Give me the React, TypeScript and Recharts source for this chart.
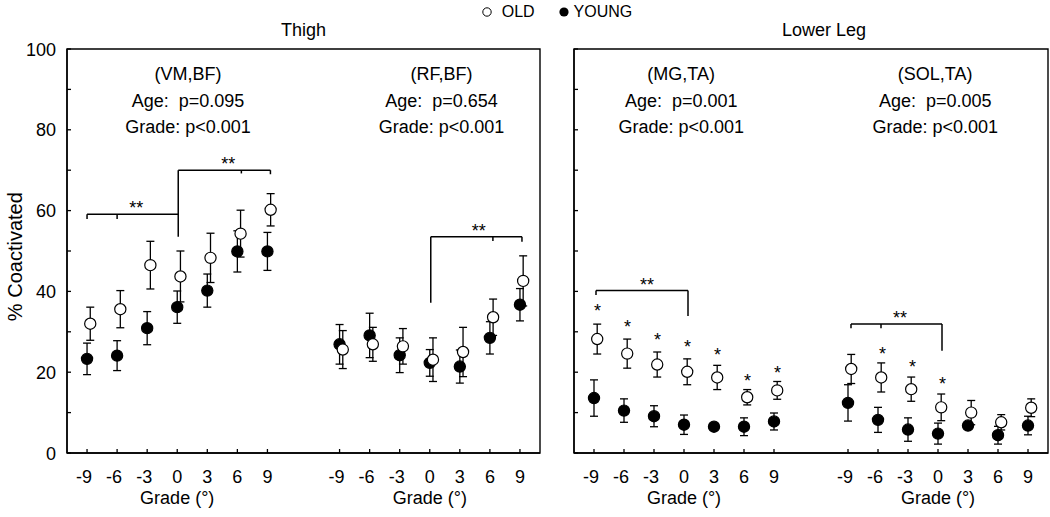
import React from 'react';
import {
  ScatterChart,
  Scatter,
  XAxis,
  YAxis,
  ErrorBar,
  ReferenceLine,
  ReferenceDot,
  ReferenceArea,
  Legend,
} from 'recharts';

const FONT = '"Liberation Sans", Arial, Helvetica, sans-serif';

// ---------- data ----------
const grades = [-9, -6, -3, 0, 3, 6, 9];
const yTicks = [0, 10, 20, 30, 40, 50, 60, 70, 80, 90, 100];

// Thigh (VM,BF)
const vmbfOld = [32.0, 35.6, 46.5, 43.7, 48.3, 54.3, 60.2];
const vmbfOldErr = [4.1, 4.6, 5.9, 6.3, 6.1, 5.8, 4.0];
const vmbfYoung = [23.3, 24.1, 30.9, 36.1, 40.2, 49.9, 49.9];
const vmbfYoungErr = [3.9, 3.7, 4.1, 4.0, 4.1, 5.1, 4.7];

// Thigh (RF,BF)
const rfbfOld = [25.6, 26.9, 26.4, 23.1, 25.0, 33.6, 42.6];
const rfbfOldErr = [4.7, 4.2, 4.4, 5.4, 6.1, 4.5, 6.2];
const rfbfYoung = [26.9, 29.1, 24.2, 22.3, 21.4, 28.5, 36.7];
const rfbfYoungErr = [4.9, 5.5, 4.3, 3.3, 4.1, 4.0, 4.0];

// Lower leg (MG,TA)
const mgtaOld = [28.2, 24.6, 21.9, 20.1, 18.7, 13.8, 15.5];
const mgtaOldErr = [3.7, 3.6, 3.1, 3.2, 3.0, 1.9, 2.2];
const mgtaYoung = [13.6, 10.5, 9.1, 7.0, 6.5, 6.5, 7.8];
const mgtaYoungErr = [4.5, 2.9, 2.6, 2.4, 0.5, 2.2, 2.1];

// Lower leg (SOL,TA)
const soltaOld = [20.8, 18.7, 15.8, 11.3, 10.0, 7.6, 11.2];
const soltaOldErr = [3.6, 3.6, 3.0, 3.3, 3.0, 1.9, 2.2];
const soltaYoung = [12.4, 8.2, 5.8, 4.8, 6.8, 4.4, 6.8];
const soltaYoungErr = [4.5, 3.1, 2.9, 2.6, 0.5, 2.2, 2.3];

// text
const panelTitles = ['Thigh', 'Lower Leg'];
const muscleLabels = ['(VM,BF)', '(RF,BF)', '(MG,TA)', '(SOL,TA)'];
const ageLabels = ['Age:  p=0.095', 'Age:  p=0.654', 'Age:  p=0.001', 'Age:  p=0.005'];
const gradeLabels = ['Grade: p<0.001', 'Grade: p<0.001', 'Grade: p<0.001', 'Grade: p<0.001'];
const xAxisTitle = 'Grade (°)';
const yAxisTitle = '% Coactivated';

// single-star markers (grade, y)
const mgtaStarGrades = [-9, -6, -3, 0, 3, 6, 9];
const mgtaStarY = [33.7, 29.8, 26.5, 24.75, 22.7, 16.3, 18.4];
const soltaStarGrades = [-6, -3, 0];
const soltaStarY = [22.9, 19.9, 15.5];

// significance brackets [x1, y1, x2, y2] in grade units (per sub-group)
const vmbfBrackets = [
  [-9, 59.1, 0.1, 59.1],
  [-9, 57.9, -9, 59.1],
  [-6, 57.9, -6, 59.1],
  [0.1, 53.5, 0.1, 70.0],
  [0.1, 70.0, 9.3, 70.0],
  [6.4, 69.2, 6.4, 70.0],
  [9.3, 69.0, 9.3, 70.0],
];
const vmbfDoubleStars = [[-4.1, 59.1], [5.1, 70.0]];
const rfbfBrackets = [
  [0.1, 53.5, 9.2, 53.5],
  [0.1, 37.2, 0.1, 53.5],
  [6.3, 52.5, 6.3, 53.5],
  [9.2, 52.3, 9.2, 53.5],
];
const rfbfDoubleStars = [[4.9, 53.5]];
const mgtaBrackets = [
  [-8.8, 40.2, 0.4, 40.2],
  [-8.8, 39.1, -8.8, 40.2],
  [0.4, 33.9, 0.4, 40.2],
];
const mgtaDoubleStars = [[-3.7, 40.2]];
const soltaBrackets = [
  [-8.7, 31.9, 0.4, 31.9],
  [-8.7, 30.9, -8.7, 31.9],
  [-5.7, 30.9, -5.7, 31.9],
  [0.4, 25.3, 0.4, 31.9],
];
const soltaDoubleStars = [[-3.8, 31.9]];

// layout constants (axis units)
const THIGH_SHIFT = 25.2;
const LEG_SHIFT = 25.4;
const OLD_JITTER = 0.32;

type Pt = { x: number; y: number; err: number };
const build = (vals: number[], errs: number[], shift: number, jitter: number): Pt[] =>
  grades.map((g, i) => ({ x: g + shift + jitter, y: vals[i], err: errs[i] }));

const thighOld = [...build(vmbfOld, vmbfOldErr, 0, OLD_JITTER), ...build(rfbfOld, rfbfOldErr, THIGH_SHIFT, OLD_JITTER)];
const thighYoung = [...build(vmbfYoung, vmbfYoungErr, 0, 0), ...build(rfbfYoung, rfbfYoungErr, THIGH_SHIFT, 0)];
const legOld = [...build(mgtaOld, mgtaOldErr, 0, OLD_JITTER), ...build(soltaOld, soltaOldErr, LEG_SHIFT, OLD_JITTER)];
const legYoung = [...build(mgtaYoung, mgtaYoungErr, 0, 0), ...build(soltaYoung, soltaYoungErr, LEG_SHIFT, 0)];

const shiftSegs = (segs: number[][], s: number) => segs.map(([a, b, c, d]) => [a + s, b, c + s, d]);
const shiftPts = (pts: number[][], s: number) => pts.map(([a, b]) => [a + s, b]);

// ---------- rendering helpers ----------
const XTick = (props: any) => {
  const { x, y, payload, shift } = props;
  const v = payload.value;
  const label = Math.round(v > 12 ? v - shift : v);
  return (
    <g>
      <line x1={x} x2={x} y1={y} y2={y - 4} stroke="#000" strokeWidth={1.3} />
      <text x={x + 5} y={y + 30.3} textAnchor="end" fontSize={18} fontFamily={FONT} fill="#000">
        {String(label)}
      </text>
    </g>
  );
};

const YTick = (props: any) => {
  const { x, y, payload, showLabel } = props;
  const v = payload.value;
  return (
    <g>
      <line x1={x} x2={x + 4} y1={y} y2={y} stroke="#000" strokeWidth={1.3} />
      {showLabel && v % 20 === 0 ? (
        <text x={x - 11} y={y + 6.5} textAnchor="end" fontSize={18} fontFamily={FONT} fill="#000">
          {String(v)}
        </text>
      ) : null}
    </g>
  );
};

const textShape = (text: string, size: number, rotate = false) => (p: any) => (
  <text
    x={p.cx}
    y={p.cy}
    textAnchor="middle"
    fontSize={size}
    fontFamily={FONT}
    fill="#000"
    style={{ whiteSpace: 'pre' }}
    transform={rotate ? `rotate(-90, ${p.cx}, ${p.cy})` : undefined}
  >
    {text}
  </text>
);

const openCircle = (p: any) => (
  <circle cx={p.cx} cy={p.cy} r={5.6} fill="#fff" stroke="#000" strokeWidth={1.2} />
);
const filledCircle = (p: any) => (
  <circle cx={p.cx} cy={p.cy} r={5.6} fill="#000" stroke="#000" strokeWidth={1.2} />
);

const LegendContent = () => (
  <div
    style={{
      position: 'absolute',
      top: 2,
      left: 481.7,
      display: 'flex',
      alignItems: 'center',
      fontFamily: FONT,
      fontSize: 16,
      lineHeight: '20px',
      whiteSpace: 'nowrap',
      color: '#000',
    }}
  >
    <svg width={10} height={10} style={{ display: 'block' }}>
      <circle cx={5} cy={5} r={4.2} fill="#fff" stroke="#000" strokeWidth={1} />
    </svg>
    <span style={{ marginLeft: 10 }}>OLD</span>
    <svg width={10} height={10} style={{ display: 'block', marginLeft: 24 }}>
      <circle cx={5} cy={5} r={4.6} fill="#000" />
    </svg>
    <span style={{ marginLeft: 5 }}>YOUNG</span>
  </div>
);

type PanelProps = {
  marginLeft: number;
  marginRight: number;
  domain: [number, number];
  shift: number;
  showYLabels: boolean;
  old: Pt[];
  young: Pt[];
  segs: number[][];
  doubleStars: number[][];
  singleStars: number[][];
  notes: { x: number; y: number; text: string; size: number; rotate?: boolean }[];
  withLegend: boolean;
};

const Panel = (props: PanelProps) => {
  const { marginLeft, marginRight, domain, shift, showYLabels, old, young, segs, doubleStars, singleStars, notes, withLegend } = props;
  const xTicks = [...grades, ...grades.map((g) => g + shift)];
  return (
    <ScatterChart width={1050} height={517} margin={{ top: 49, right: marginRight, bottom: 63, left: marginLeft }}>
      <XAxis
        type="number"
        dataKey="x"
        domain={domain}
        ticks={xTicks}
        interval={0}
        allowDataOverflow
        height={1}
        tickSize={0}
        tickMargin={0}
        tickLine={false}
        axisLine={{ stroke: '#000', strokeWidth: 1.4 }}
        tick={(p: any) => <XTick {...p} shift={shift} />}
      />
      <YAxis
        type="number"
        dataKey="y"
        domain={[0, 100]}
        ticks={yTicks}
        interval={0}
        allowDataOverflow
        width={1}
        tickSize={0}
        tickMargin={0}
        tickLine={false}
        axisLine={{ stroke: '#000', strokeWidth: 1.4 }}
        tick={(p: any) => <YTick {...p} showLabel={showYLabels} />}
      />
      <ReferenceArea x1={domain[0]} x2={domain[1]} y1={0} y2={100} fill="none" stroke="#000" strokeWidth={1.4} ifOverflow="visible" />
      {withLegend ? (
        <Legend
          verticalAlign="top"
          wrapperStyle={{ position: 'absolute', top: 0, left: 0, width: 1050, height: 0, overflow: 'visible' }}
          content={() => <LegendContent />}
        />
      ) : null}
      <Scatter name="YOUNG" data={young} fill="#000" shape={filledCircle} isAnimationActive={false}>
        <ErrorBar dataKey="err" direction="y" width={4} stroke="#000" strokeWidth={1.3} isAnimationActive={false} />
      </Scatter>
      <Scatter name="OLD" data={old} fill="#fff" shape={openCircle} isAnimationActive={false}>
        <ErrorBar dataKey="err" direction="y" width={4} stroke="#000" strokeWidth={1.3} isAnimationActive={false} />
      </Scatter>
      {segs.map((s, i) => (
        <ReferenceLine
          key={`seg${i}`}
          segment={[
            { x: s[0], y: s[1] },
            { x: s[2], y: s[3] },
          ]}
          stroke="#000"
          strokeWidth={1.5}
          ifOverflow="visible"
        />
      ))}
      {doubleStars.map((s, i) => (
        <ReferenceDot key={`ds${i}`} x={s[0]} y={s[1]} r={0} ifOverflow="visible" shape={textShape('**', 18)} />
      ))}
      {singleStars.map((s, i) => (
        <ReferenceDot key={`ss${i}`} x={s[0]} y={s[1]} r={0} ifOverflow="visible" shape={textShape('*', 18)} />
      ))}
      {notes.map((n, i) => (
        <ReferenceDot key={`n${i}`} x={n.x} y={n.y} r={0} ifOverflow="visible" shape={textShape(n.text, n.size, n.rotate)} />
      ))}
    </ScatterChart>
  );
};

const NOTE_Y = [92.4, 85.7, 79.1];
const TITLE_Y = 103.1;
const GRADE_TITLE_Y = -12.6;

const groupNotes = (idx: number, cx: number, x0: number) => [
  { x: cx, y: NOTE_Y[0], text: muscleLabels[idx], size: 18 },
  { x: cx, y: NOTE_Y[1], text: ageLabels[idx], size: 18 },
  { x: cx, y: NOTE_Y[2], text: gradeLabels[idx], size: 18 },
  { x: x0, y: GRADE_TITLE_Y, text: xAxisTitle, size: 18 },
];

const thighNotes = [
  ...groupNotes(0, 1.07, 0),
  ...groupNotes(1, 1.17 + THIGH_SHIFT, THIGH_SHIFT),
  { x: 12.6, y: TITLE_Y, text: panelTitles[0], size: 18 },
  { x: -15.5, y: 48.6, text: yAxisTitle, size: 20, rotate: true },
];
const legNotes = [
  ...groupNotes(2, -0.28, 0),
  ...groupNotes(3, -0.28 + LEG_SHIFT, LEG_SHIFT),
  { x: 14.0, y: TITLE_Y, text: panelTitles[1], size: 18 },
];

export default function App() {
  return (
    <div style={{ position: 'absolute', left: 0, top: 0, width: 1050, height: 517, background: '#fff', overflow: 'hidden' }}>
      <div style={{ position: 'absolute', left: 0, top: 0 }}>
        <Panel
          marginLeft={66}
          marginRight={510}
          domain={[-11, 36.2]}
          shift={THIGH_SHIFT}
          showYLabels
          old={thighOld}
          young={thighYoung}
          segs={[...vmbfBrackets, ...shiftSegs(rfbfBrackets, THIGH_SHIFT)]}
          doubleStars={[...vmbfDoubleStars, ...shiftPts(rfbfDoubleStars, THIGH_SHIFT)]}
          singleStars={[]}
          notes={thighNotes}
          withLegend
        />
      </div>
      <div style={{ position: 'absolute', left: 0, top: 0 }}>
        <Panel
          marginLeft={573}
          marginRight={2}
          domain={[-11, 36.4]}
          shift={LEG_SHIFT}
          showYLabels={false}
          old={legOld}
          young={legYoung}
          segs={[...mgtaBrackets, ...shiftSegs(soltaBrackets, LEG_SHIFT)]}
          doubleStars={[...mgtaDoubleStars, ...shiftPts(soltaDoubleStars, LEG_SHIFT)]}
          singleStars={[
            ...mgtaStarGrades.map((g, i) => [g + 0.35, mgtaStarY[i]]),
            ...soltaStarGrades.map((g, i) => [g + 0.45 + LEG_SHIFT, soltaStarY[i]]),
          ]}
          notes={legNotes}
          withLegend={false}
        />
      </div>
    </div>
  );
}
